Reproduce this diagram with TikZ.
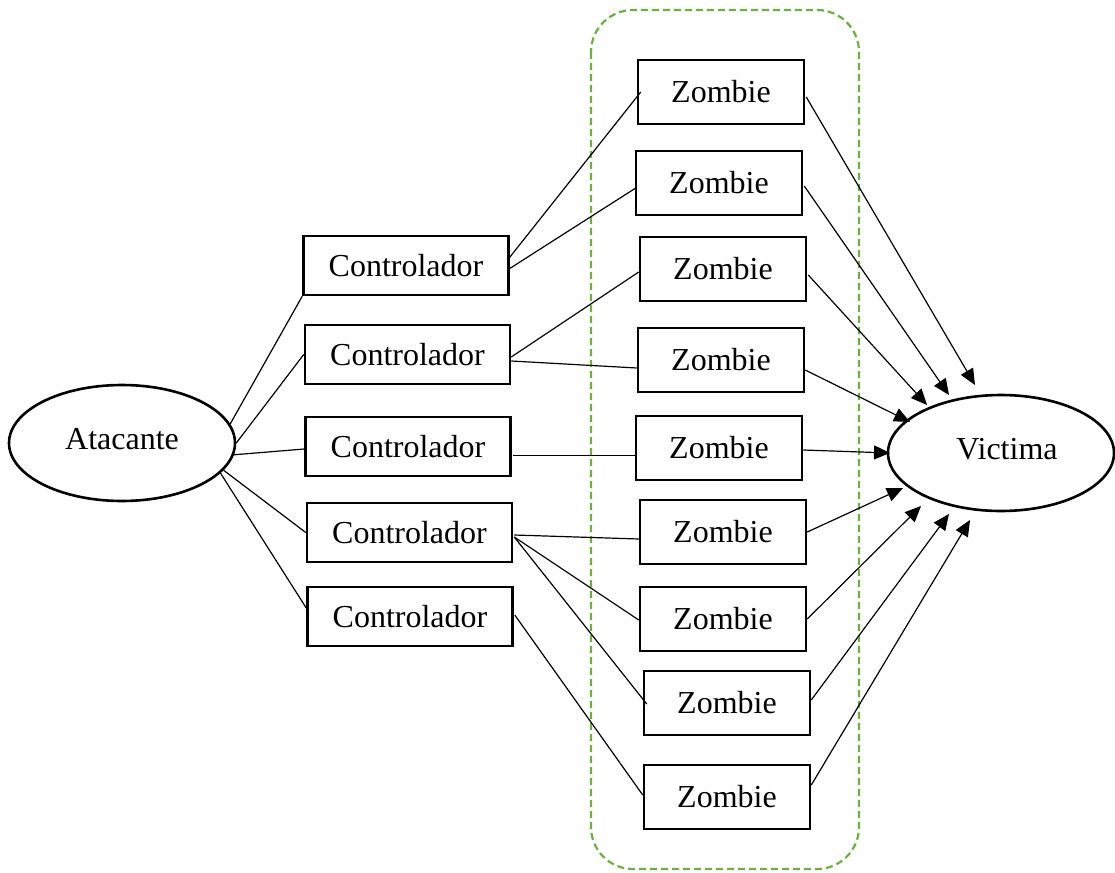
\documentclass[tikz,border=0pt]{standalone}
\usepackage{fontspec}
\setmainfont{Liberation Serif}
\usetikzlibrary{calc,arrows.meta,shapes.geometric}
\definecolor{grp}{RGB}{112,173,71}
\begin{document}
\begin{tikzpicture}[x=1pt,y=-1pt,
  every node/.style={font=\fontsize{32}{38}\selectfont},
  ctrl/.style={draw,line width=2.5pt,rectangle,minimum width=205pt,minimum height=59pt,inner sep=0pt},
  zomb/.style={draw,line width=2.5pt,rectangle,minimum width=166pt,minimum height=64pt,inner sep=0pt},
  actor/.style={draw,line width=2.6pt,ellipse,minimum width=226pt,minimum height=116pt,inner sep=0pt},
  link/.style={line width=1.2pt},
  hit/.style={line width=1.2pt,-{Triangle[length=16pt,width=14pt]}}]
\useasboundingbox (0,0) rectangle (1115,872);
% group
\draw[grp,line width=2.2pt,dash pattern=on 7pt off 4pt,rounded corners=42pt] (591,10) rectangle (859,869);
% actors
\node[actor] (atk) at (122,443) {\raisebox{8pt}{Atacante}};
\node[actor] (vic) at (1001,453) {\raisebox{8pt}{\hspace{12pt}Victima}};
% controllers
\node[ctrl] (c1) at (406,265.5) {Controlador};
\node[ctrl] (c2) at (407.5,354.5) {Controlador};
\node[ctrl] (c3) at (408,446.5) {Controlador};
\node[ctrl] (c4) at (409.5,532.5) {Controlador};
\node[ctrl] (c5) at (410,616.5) {Controlador};
% zombies
\node[zomb] (z1) at (721,92) {Zombie};
\node[zomb] (z2) at (719,183) {Zombie};
\node[zomb] (z3) at (723,269) {Zombie};
\node[zomb] (z4) at (721,360) {Zombie};
\node[zomb] (z5) at (719,448) {Zombie};
\node[zomb] (z6) at (723,532) {Zombie};
\node[zomb] (z7) at (723,619) {Zombie};
\node[zomb] (z8) at (727,703) {Zombie};
\node[zomb] (z9) at (727,797) {Zombie};
% attacker -> controllers
\draw[link] (atk.10) -- (c1.south west);
\draw[link] (atk.0) -- (c2.west);
\draw[link] (atk.-6) -- ($(c3.west)+(0,2.5)$);
\draw[link] (atk.-15.7) -- (c4.west);
\draw[link] (atk.-17) -- ($(c5.west)+(0,-8.5)$);
% controllers -> zombies
\draw[link] ($(c1.east)+(-1,-7)$) -- ($(z1.west)+(4,0)$);
\draw[link] ($(c1.east)+(0,3)$) -- ($(z2.west)+(1,5)$);
\draw[link] ($(c2.east)+(0,2.5)$) -- ($(z3.west)+(0,3)$);
\draw[link] ($(c2.east)+(0,6.5)$) -- ($(z4.west)+(0,8)$);
\draw[link] ($(c3.east)+(1,9)$) -- ($(z5.west)+(2,7.5)$);
\draw[link] ($(c4.east)+(1,2.5)$) -- ($(z6.west)+(0,7)$);
\draw[link] ($(c4.east)+(1,4.5)$) -- ($(z7.west)+(0,1)$);
\draw[link] ($(c4.east)+(1,4.5)$) -- ($(z8.west)+(4,1)$);
\draw[link] ($(c5.east)+(1,-1.5)$) -- ($(z9.west)+(0,-2)$);
% zombies -> victim
\draw[hit] ($(z1.east)+(1,5)$) -- ($(vic.center)+(-26,-68)$);
\draw[hit] ($(z2.east)+(1,3)$) -- ($(vic.center)+(-52,-58)$);
\draw[hit] ($(z3.east)+(1,6)$) -- ($(vic.center)+(-74,-48)$);
\draw[hit] ($(z4.east)+(0,10)$) -- ($(vic.center)+(-91,-31)$);
\draw[hit] ($(z5.east)+(0,2)$) -- ($(vic.center)+(-111,0)$);
\draw[hit] (z6.east) -- ($(vic.center)+(-98,35)$);
\draw[hit] (z7.east) -- ($(vic.center)+(-80,53)$);
\draw[hit] ($(z8.east)+(0,-3)$) -- ($(vic.center)+(-52,61)$);
\draw[hit] ($(z9.east)+(0,-12)$) -- ($(vic.center)+(-31,67)$);
\end{tikzpicture}
\end{document}
